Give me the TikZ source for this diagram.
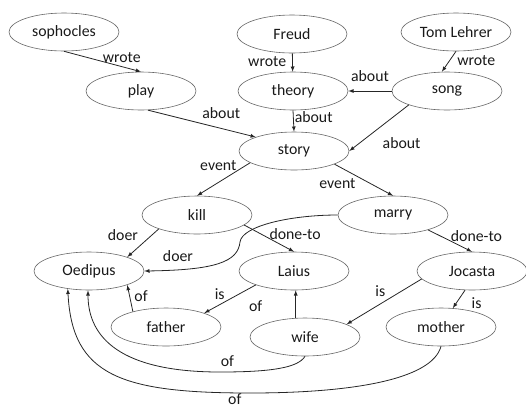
\documentclass[tikz,border=0pt]{standalone}
\usepackage{fontspec}
\setmainfont{Carlito}
\usetikzlibrary{arrows,shapes.geometric}

\begin{document}
\begin{tikzpicture}[
x=1pt,y=-1pt,
font=\fontsize{15.8}{19}\selectfont,
ell/.style={
  draw=black!60,
  ellipse,
  line width=0.6pt,
  minimum width=110pt,
  minimum height=38pt,
  inner sep=0pt
},
lbl/.style={
  inner sep=1pt,
  text height=10pt,
  text depth=3pt
},
rel/.style={
  -latex,
  line width=0.8pt,
  black!85
},
every node/.append style={text=black!90}
]
\useasboundingbox (0,0) rectangle (526,408);

% concepts
\node[ell] at (64,32) (sophocles) {sophocles};
\node[ell] at (292,34) (freud) {Freud};
\node[ell] at (456,32) (lehrer) {Tom Lehrer};
\node[ell] at (141,91) (play) {play};
\node[ell] at (293,91) (theory) {theory};
\node[ell] at (447,91) (song) {song};
\node[ell] at (294,151) (story) {story};
\node[ell] at (197,215) (kill) {kill};
\node[ell] at (393,215) (marry) {marry};
\node[ell] at (89,271) (oedipus) {Oedipus};
\node[ell] at (294,271) (laius) {Laius};
\node[ell] at (472,271) (jocasta) {Jocasta};
\node[ell] at (166,327) (father) {father};
\node[ell] at (305,337) (wife) {wife};
\node[ell] at (441,327) (mother) {mother};

% relations
\draw[rel] (sophocles.south) -- node[lbl,pos=0.75,above=0pt] {wrote} (play.north);
\draw[rel] (freud) -- node[lbl,left=5pt] {wrote} (theory);
\draw[rel] (lehrer.south) -- node[lbl,right=7pt] {wrote} (song.105);
\draw[rel] (song.west) -- node[lbl,above=5pt] {about} (theory.east);
\draw[rel] (theory.south) -- node[lbl,pos=0.4,right=0pt] {about} (story.north);
\draw[rel] (song.200) -- node[lbl,pos=0.12,below=27pt] {about} (story.east);
\draw[rel] (play.290) -- node[lbl,pos=0.68,above=6pt] {about} (story.160);
\draw[rel] (story.195) -- node[lbl,pos=0.14,left=5pt] {event} (kill.north);
\draw[rel] (story.342) -- node[lbl,pos=0.05,below=11pt] {event} (marry.north);
\draw[rel] (kill.200) -- node[lbl,pos=0.3,left=10pt] {doer} (oedipus.20);
\draw[rel] (marry.west) .. controls (290,215) and (242,226) .. (240,242)
  .. controls (238,262) and (215,270) .. node[lbl,pos=0.82,above=4pt] {doer} (oedipus.east);
\draw[rel] (kill.348) -- node[lbl,pos=0.4,right=4pt] {done-to} (laius.north);
\draw[rel] (marry.337) -- node[lbl,pos=0.35,right=6pt] {done-to} (jocasta.north);
\draw[rel] (laius.200) -- node[lbl,pos=0.7,above=1pt] {is} (father.20);
\draw[rel] (father.155) -- node[lbl,pos=0.5,right=3pt] {of} (oedipus.340);
\draw[rel] (wife.116) -- node[lbl,pos=0.35,left=32pt] {of} (wife.116 |- laius.south);
\draw[rel] (jocasta.189) -- node[lbl,pos=0.55,above=3pt] {is} (wife.17);
\draw[rel] (jocasta.250) -- node[lbl,pos=0.8,right=15pt] {is} (mother.58);
\draw[rel] (wife.south) .. controls (298,368) and (270,372) .. node[lbl,pos=0.95,above=1pt] {of} (220,372)
  .. controls (110,372) and (88,330) .. (oedipus.267);
\draw[rel] (mother.south) .. controls (432,380) and (350,393) .. (250,393)
  .. controls (120,393) and (72,375) .. node[lbl,pos=0.04,below=0pt,text depth=0pt] {of} (oedipus.220);
\end{tikzpicture}
\end{document}
